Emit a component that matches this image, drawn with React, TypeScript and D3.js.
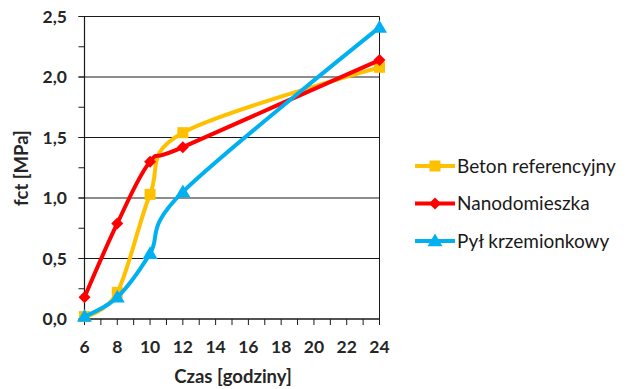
import React from "react";
import * as d3 from "d3";

const hours = [6, 8, 10, 12, 24];
const betonValues = [0.02, 0.22, 1.03, 1.54, 2.08];
const nanoValues = [0.18, 0.79, 1.3, 1.42, 2.14];
const pylValues = [0.02, 0.18, 0.54, 1.05, 2.41];
const seriesNames = ["Beton referencyjny", "Nanodomieszka", "Pył krzemionkowy"];
const seriesColors = ["#FFC000", "#FF0000", "#00B0F0"];
const seriesMarkers = ["square", "diamond", "triangle"];
const xTickLabels = [6, 8, 10, 12, 14, 16, 18, 20, 22, 24];
const yTickLabels = [0, 0.5, 1.0, 1.5, 2.0, 2.5];

const W = 637;
const H = 389;
const left = 84.5;
const right = 379.5;
const top = 16.5;
const bottom = 319;
const FONT = "Lato, 'Open Sans', sans-serif";

function Marker({ type, x, y, color }: { type: string; x: number; y: number; color: string }) {
  if (type === "square") {
    const s = 11;
    return <rect x={x - s / 2} y={y - s / 2} width={s} height={s} fill={color} />;
  }
  if (type === "diamond") {
    const r = 6;
    return <path d={`M${x},${y - r}L${x + r},${y}L${x},${y + r}L${x - r},${y}Z`} fill={color} />;
  }
  const r = 7.5;
  return <path d={`M${x},${y - r}L${x + r},${y + r * 0.7}L${x - r},${y + r * 0.7}Z`} fill={color} />;
}

export default function App() {
  const x = d3.scaleLinear().domain([6, 24]).range([left, right]);
  const y = d3.scaleLinear().domain([0, 2.5]).range([bottom, top]);
  const allValues = [betonValues, nanoValues, pylValues];
  const line = d3
    .line<[number, number]>()
    .x((d) => x(d[0]))
    .y((d) => y(d[1]))
    .curve(d3.curveCardinal.tension(0));

  const minorY = d3.range(0, 2.5001, 0.25);
  const minorX = d3.range(6, 24.001, 1);

  return (
    <svg width={W} height={H} style={{ position: "absolute", left: 0, top: 0, background: "#fff" }}>
      <rect x={0} y={0} width={W} height={H} fill="#fff" />
      {yTickLabels.map((v) => (
        <line key={"g" + v} x1={left - 6} x2={right} y1={y(v)} y2={y(v)} stroke="#1a1a1a" strokeWidth={1} />
      ))}
      {minorY.map((v) => (
        <line key={"my" + v} x1={left - 6} x2={left} y1={y(v)} y2={y(v)} stroke="#1a1a1a" strokeWidth={1} />
      ))}
      {minorX.map((v) => (
        <line key={"mx" + v} x1={x(v)} x2={x(v)} y1={bottom} y2={bottom + 6} stroke="#1a1a1a" strokeWidth={1} />
      ))}
      <line x1={left} x2={left} y1={top} y2={bottom} stroke="#1a1a1a" strokeWidth={1.2} />
      <line x1={right} x2={right} y1={top} y2={bottom} stroke="#1a1a1a" strokeWidth={1} />
      <line x1={left} x2={right} y1={bottom} y2={bottom} stroke="#1a1a1a" strokeWidth={1.2} />

      {yTickLabels.map((v) => (
        <text
          key={"yl" + v}
          x={67}
          y={y(v)}
          dy="0.35em"
          textAnchor="end"
          fontFamily={FONT}
          fontWeight="bold"
          fontSize={17.5}
          fill="#262626"
        >
          {v.toFixed(1).replace(".", ",")}
        </text>
      ))}
      {xTickLabels.map((v) => (
        <text
          key={"xl" + v}
          x={x(v)}
          y={347}
          dy="0.35em"
          textAnchor="middle"
          fontFamily={FONT}
          fontWeight="bold"
          fontSize={17.5}
          fill="#262626"
        >
          {v}
        </text>
      ))}
      <text x={233} y={377} dy="0.35em" textAnchor="middle" fontFamily={FONT} fontWeight="bold" fontSize={18.5} fill="#262626">
        Czas [godziny]
      </text>
      <text
        transform={`translate(22,168) rotate(-90)`}
        dy="0.35em"
        textAnchor="middle"
        fontFamily={FONT}
        fontWeight="bold"
        fontSize={18.5}
        fill="#262626"
      >
        fct [MPa]
      </text>

      {allValues.map((vals, i) => {
        const pts: [number, number][] = hours.map((h, j) => [h, vals[j]]);
        return (
          <g key={"s" + i}>
            <path d={line(pts) || ""} fill="none" stroke={seriesColors[i]} strokeWidth={4} strokeLinejoin="round" />
            {pts.map((p, j) => (
              <Marker key={j} type={seriesMarkers[i]} x={x(p[0])} y={y(p[1])} color={seriesColors[i]} />
            ))}
          </g>
        );
      })}

      {seriesNames.map((name, i) => {
        const ly = 166 + i * 37.5;
        return (
          <g key={"l" + i}>
            <line x1={415} x2={455} y1={ly} y2={ly} stroke={seriesColors[i]} strokeWidth={4} />
            <Marker type={seriesMarkers[i]} x={435} y={ly} color={seriesColors[i]} />
            <text x={457} y={ly} dy="0.35em" fontFamily={FONT} fontSize={19} fill="#1a1a1a">
              {name}
            </text>
          </g>
        );
      })}
    </svg>
  );
}
